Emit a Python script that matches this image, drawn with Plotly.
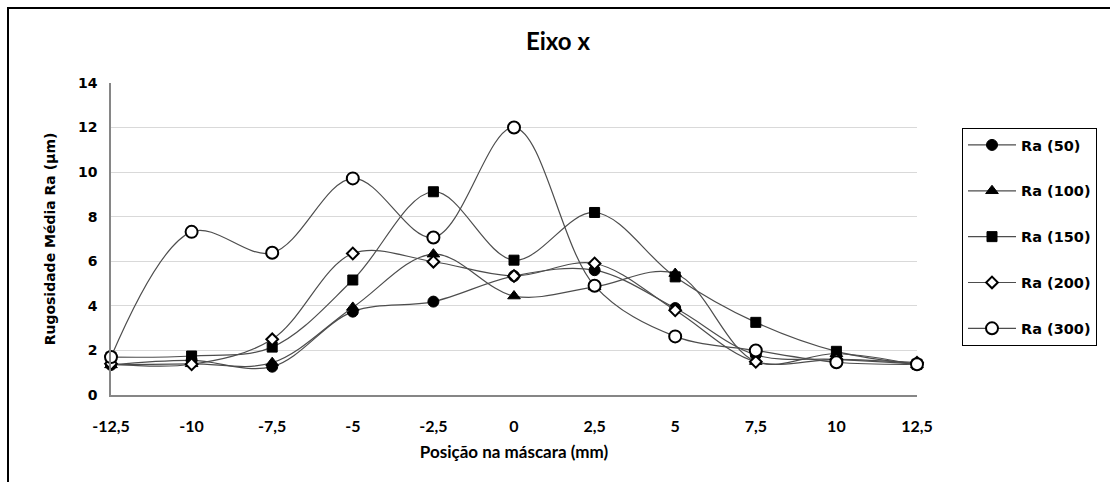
import plotly.graph_objects as go

x_pos = [-12.5, -10, -7.5, -5, -2.5, 0, 2.5, 5, 7.5, 10, 12.5]
x_labels = ["-12,5", "-10", "-7,5", "-5", "-2,5", "0", "2,5", "5", "7,5", "10", "12,5"]

ra_50 = [1.35, 1.55, 1.27, 3.74, 4.19, 5.34, 5.60, 3.90, 1.80, 1.60, 1.40]
ra_100 = [1.35, 1.40, 1.45, 3.93, 6.32, 4.44, 4.85, 5.45, 1.50, 1.85, 1.35]
ra_150 = [1.70, 1.75, 2.15, 5.16, 9.12, 6.05, 8.19, 5.30, 3.26, 1.96, 1.38]
ra_200 = [1.40, 1.38, 2.50, 6.35, 5.98, 5.34, 5.90, 3.80, 1.49, 1.60, 1.45]
ra_300 = [1.70, 7.32, 6.38, 9.72, 7.07, 12.00, 4.90, 2.63, 2.00, 1.47, 1.38]

names = ["Ra (50)", "Ra (100)", "Ra (150)", "Ra (200)", "Ra (300)"]

series = [ra_50, ra_100, ra_150, ra_200, ra_300]
styles = [
    dict(symbol="circle", size=11, color="black", line=dict(color="black", width=1)),
    dict(symbol="triangle-up", size=11, color="black", line=dict(color="black", width=1)),
    dict(symbol="square", size=10, color="black", line=dict(color="black", width=1)),
    dict(symbol="diamond", size=9, color="white", line=dict(color="black", width=2)),
    dict(symbol="circle", size=12, color="white", line=dict(color="black", width=2)),
]

fig = go.Figure()
for i, (nm, ys, st) in enumerate(zip(names, series, styles)):
    fig.add_trace(go.Scatter(
        x=x_pos, y=ys, name=nm, mode="lines+markers",
        line=dict(color="#4d4d4d", width=1.2, shape="spline", smoothing=1.0),
        marker=st, cliponaxis=False, legendgroup=str(i),
    ))

W, H = 1110, 482
L, R, T, B = 111, 1110 - 917, 83, 482 - 395
pw, ph = W - L - R, H - T - B

def px(xp):
    return (xp - L) / pw

def py(yp):
    return (H - B - yp) / ph

fig.update_layout(
    width=W, height=H,
    margin=dict(l=L, r=R, t=T, b=B),
    paper_bgcolor="white", plot_bgcolor="white",
    title=dict(text="<b>Eixo x</b>", x=558 / W, xref="container", xanchor="center",
               y=1 - 42 / H, yref="container", yanchor="middle",
               font=dict(family="Lato", size=24, color="black")),
    xaxis=dict(
        range=[-12.5, 12.5], tickvals=x_pos, ticktext=["<b>%s</b>" % t for t in x_labels],
        showgrid=False, zeroline=False, showline=True, linecolor="#868686", linewidth=1.5,
        ticks="", ticklabelstandoff=16,
        tickfont=dict(family="Lato", size=16, color="black"),
        title=dict(text="<b>Posição na máscara (mm)</b>", standoff=12,
                   font=dict(family="Lato", size=17, color="black")),
    ),
    yaxis=dict(
        range=[0, 14], dtick=2, showgrid=True, gridcolor="#d9d9d9", gridwidth=1.3,
        zeroline=False, showline=True, linecolor="#868686", linewidth=1.5,
        ticks="", ticklabelstandoff=9,
        tickfont=dict(family="DejaVu Sans", size=14, color="black", weight="bold"),
        title=dict(text="<b>Rugosidade Média Ra (µm)</b>", standoff=19,
                   font=dict(family="DejaVu Sans", size=14, color="black")),
    ),
    legend=dict(
        x=px(962), xanchor="left", y=py(128), yanchor="top",
        bordercolor="black", borderwidth=1, bgcolor="white",
        font=dict(family="DejaVu Sans", size=14.5, color="black", weight="bold"),
        tracegroupgap=24, itemwidth=48,
    ),
    showlegend=True,
    shapes=[dict(type="rect", xref="paper", yref="paper",
                 x0=px(8), x1=px(1130), y0=py(500), y1=py(8),
                 line=dict(color="black", width=2), fillcolor="rgba(0,0,0,0)", layer="below")],
)

fig.write_html("out.html")
